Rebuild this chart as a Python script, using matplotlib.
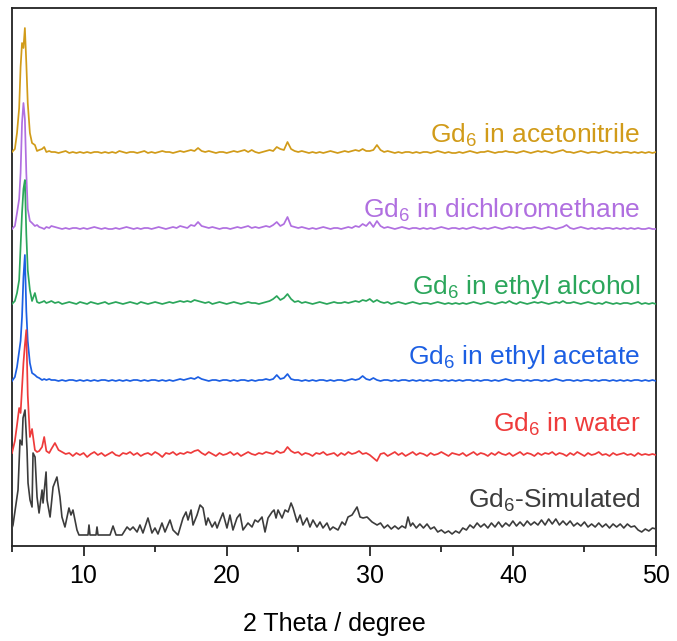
"""Stacked PXRD patterns of Gd6 after soaking in solvents vs. simulated pattern."""
import matplotlib
matplotlib.use("Agg")
import matplotlib.pyplot as plt
import numpy as np
from matplotlib.ticker import MultipleLocator

plt.rcParams["font.family"] = ["Liberation Sans", "DejaVu Sans"]
plt.rcParams["mathtext.fontset"] = "custom"
plt.rcParams["mathtext.rm"] = "Liberation Sans"
plt.rcParams["mathtext.it"] = "Liberation Sans:italic"

# ---- data (intensity in arbitrary units above each pattern's own baseline) ----
# low-angle region, shared sampling for the measured patterns
HEAD_X = [5.0, 5.2, 5.35, 5.5, 5.6, 5.7, 5.8, 5.9, 6.0, 6.1,
          6.25, 6.4, 6.6, 6.75, 6.9, 7.1, 7.25, 7.4, 7.6, 7.75]
# 8-50 deg, step 0.25 deg
TAIL_X = np.arange(8.0, 50.001, 0.25)

ACN_HEAD = [1, 4, 20, 45, 86, 110, 105, 125, 90, 50, 20, 10, 8, 2, 3, 4, 6, 1, 2, 1]
ACN_TAIL = [1, 0, 1, 2, 0, 1, 0, 1,
            0, 1, 0, 1, 1, 0, 1, 0,
            1, 0, 2, 1, 0, 1, 1, 0,
            1, 2, 0, 1, 0, 1, 2, 1,
            1, 0, 1, 2, 1, 2, 3, 2,
            5, 2, 1, 2, 1, 0, 1, 1,
            0, 1, 2, 1, 2, 3, 1, 3,
            1, 0, 1, 2, 3, 2, 6, 4,
            3, 11, 4, 2, 1, 2, 1, 0,
            1, 0, 1, 0, 1, 2, 1, 0,
            1, 2, 1, 2, 3, 2, 4, 2,
            2, 3, 8, 3, 1, 2, 1, 0,
            1, 0, 1, 1, 0, 1, 0, 1,
            1, 0, 1, 2, 1, 0, 1, 0,
            0, 1, 0, 1, 2, 1, 0, 1,
            1, 2, 1, 0, 1, 1, 2, 1,
            1, 0, 1, 2, 1, 0, 1, 2,
            1, 2, 1, 0, 1, 2, 3, 1,
            1, 0, 1, 2, 1, 0, 1, 1,
            0, 1, 2, 1, 0, 1, 0, 1,
            1, 0, 1, 0, 1, 0, 1, 0,
            1]

DCM_HEAD = [0, 3, 16, 30, 56, 106, 126, 110, 56, 20, 8, 6, 3, 4, 2, 1, 0, 2, 1, 3]
DCM_TAIL = [2, 1, 0, 1, 0, 1, 1, 0,
            1, 0, 1, 2, 1, 0, 1, 0,
            0, 1, 0, 1, 2, 1, 0, 1,
            0, 1, 1, 0, 1, 2, 1, 0,
            1, 2, 1, 3, 2, 1, 4, 3,
            7, 3, 2, 1, 2, 1, 0, 1,
            1, 0, 1, 2, 1, 2, 3, 1,
            2, 1, 2, 3, 2, 4, 7, 3,
            5, 12, 3, 2, 1, 2, 1, 0,
            1, 0, 1, 2, 1, 0, 1, 1,
            0, 1, 2, 1, 3, 2, 5, 3,
            7, 2, 8, 3, 1, 2, 1, 0,
            1, 2, 1, 0, 1, 1, 0, 1,
            0, 1, 0, 1, 2, 1, 0, 1,
            1, 0, 1, 0, 1, 2, 1, 0,
            1, 0, 1, 2, 1, 0, 1, 2,
            1, 2, 1, 0, 1, 1, 2, 1,
            0, 1, 2, 1, 0, 1, 2, 4,
            1, 0, 1, 2, 1, 0, 1, 0,
            1, 0, 1, 1, 0, 1, 0, 1,
            0, 1, 0, 1, 0, 0, 1, 0,
            0]

ETOH_HEAD = [0, 3, 11, 24, 57, 91, 115, 124, 70, 34, 14, 3, 11, 2, 1, 2, 3, 1, 2, 3]
ETOH_TAIL = [1, 2, 0, 1, 2, 1, 0, 2,
             1, 0, 2, 1, 0, 1, 2, 0,
             1, 2, 1, 0, 1, 2, 1, 0,
             2, 1, 0, 1, 2, 1, 0, 1,
             2, 1, 2, 3, 2, 3, 2, 4,
             3, 2, 1, 2, 0, 1, 2, 1,
             0, 1, 2, 1, 0, 1, 2, 1,
             1, 0, 1, 2, 3, 5, 8, 4,
             6, 10, 5, 2, 3, 1, 2, 1,
             0, 1, 2, 1, 0, 1, 2, 1,
             1, 2, 1, 2, 3, 2, 4, 3,
             5, 2, 4, 2, 1, 2, 0, 1,
             2, 1, 0, 1, 2, 1, 0, 1,
             1, 0, 1, 2, 1, 0, 1, 0,
             1, 0, 1, 0, 1, 2, 1, 0,
             1, 2, 1, 0, 1, 2, 1, 3,
             1, 0, 2, 1, 0, 1, 2, 1,
             2, 1, 0, 1, 2, 1, 3, 1,
             1, 2, 1, 0, 1, 2, 1, 0,
             1, 0, 2, 1, 0, 1, 0, 1,
             1, 0, 1, 2, 0, 1, 0, 1,
             0]

ETAC_HEAD = [0, 4, 14, 30, 40, 64, 104, 126, 70, 40, 18, 8, 6, 4, 3, 1, 2, 1, 2, 1]
ETAC_TAIL = [1, 0, 1, 0, 1, 1, 0, 1,
             0, 1, 0, 1, 0, 1, 1, 0,
             1, 0, 1, 0, 1, 0, 1, 1,
             0, 1, 0, 1, 1, 0, 1, 0,
             1, 0, 1, 2, 1, 2, 3, 2,
             4, 2, 1, 0, 1, 1, 0, 1,
             1, 0, 1, 0, 1, 1, 0, 1,
             0, 1, 1, 2, 1, 2, 6, 2,
             3, 7, 2, 1, 1, 0, 1, 0,
             1, 0, 1, 1, 0, 1, 0, 1,
             1, 0, 1, 2, 1, 2, 5, 2,
             1, 3, 1, 0, 1, 1, 0, 1,
             0, 1, 1, 0, 1, 0, 1, 0,
             1, 0, 1, 1, 0, 1, 0, 1,
             0, 1, 0, 1, 1, 0, 1, 0,
             1, 1, 0, 1, 0, 1, 2, 1,
             0, 1, 1, 0, 1, 0, 1, 1,
             0, 1, 0, 1, 2, 1, 0, 1,
             1, 0, 1, 0, 1, 1, 0, 1,
             0, 1, 1, 0, 1, 0, 1, 0,
             1, 0, 1, 1, 0, 1, 0, 1,
             0]

WATER_HEAD = [2, 14, 30, 47, 42, 68, 92, 110, 125, 60, 18, 26, 5, 3, 4, 8, 18, 4, 2, 6]
WATER_TAIL = [12, 5, 3, 1, 2, -1, 2, 0,
              2, -2, 1, 3, 0, 2, -1, 1,
              3, 0, -1, 2, 1, 3, 0, 2,
              -1, 1, 2, 0, 3, 1, -2, 2,
              1, 3, 0, 2, 1, 3, 2, 4,
              5, 2, 0, 3, 1, -1, 2, 0,
              1, 3, 0, 2, -1, 1, 3, 1,
              0, 2, 1, 3, 2, 1, 4, 2,
              3, 8, 4, 2, 3, 0, 2, 1,
              -1, 2, 1, 3, 0, 1, 2, -1,
              2, 0, 3, 1, 2, 4, 1, 2,
              0, -3, -6, 1, 2, -1, 1, 3,
              0, 2, -1, 1, 3, 0, 2, 1,
              -1, 2, 0, 1, 3, 1, -1, 2,
              1, 0, 2, -1, 1, 3, 0, 2,
              1, -1, 2, 0, 3, 1, 0, 2,
              -1, 1, 3, 0, 2, 1, -1, 2,
              0, 2, 1, 3, 0, 2, 1, -1,
              2, 0, 3, 1, -1, 2, 0, 1,
              3, 0, 1, -1, 2, 0, 1, 2,
              0, 1, -1, 2, 0, 1, 0, 1,
              0]

# simulated pattern, read point by point
SIM_X = [5.0, 5.07, 5.42, 5.56, 5.70, 5.77, 5.91, 6.05, 6.12, 6.26, 6.40, 6.47, 6.61,
         6.75, 6.89, 7.10, 7.17, 7.38, 7.45, 7.66, 7.87, 8.14, 8.35, 8.49, 8.70,
         8.98, 9.12, 9.26, 9.54, 9.68, 10.31, 10.38, 10.45, 10.87, 10.94, 11.01,
         11.85, 12.06, 12.27, 12.69, 13.04, 13.25, 13.46, 13.74, 13.94, 14.15,
         14.50, 14.78, 14.99, 15.20, 15.48, 15.69, 16.04, 16.25, 16.60, 16.95,
         17.16, 17.30, 17.51, 17.65, 17.93, 18.14, 18.35, 18.56, 18.70, 18.98,
         19.19, 19.33, 19.54, 19.74, 20.02, 20.23, 20.44, 20.72, 20.93, 21.14,
         21.49, 21.77, 21.98, 22.19, 22.47, 22.68, 22.89, 23.17, 23.31, 23.45,
         23.59, 23.87, 24.08, 24.29, 24.50, 24.64, 24.92, 25.13, 25.33, 25.61,
         25.82, 26.03, 26.31, 26.52, 26.73, 27.01, 27.22, 27.43, 27.78, 28.06,
         28.27, 28.48, 28.76, 29.11, 29.32, 29.53, 29.81, 30.16, 30.51,
         30.75, 31.0, 31.25, 31.5, 31.75, 32.0, 32.25, 32.5, 32.67, 32.85,
         33.0, 33.25, 33.5, 33.75, 34.0, 34.25, 34.5, 34.75, 35.0, 35.25,
         35.5, 35.75, 36.0, 36.25, 36.5, 36.75, 37.0, 37.25, 37.5, 37.75,
         38.0, 38.25, 38.5, 38.75, 39.0, 39.25, 39.5, 39.75, 40.0, 40.25,
         40.5, 40.75, 41.0, 41.25, 41.5, 41.75, 42.0, 42.25, 42.5, 42.75,
         43.0, 43.25, 43.5, 43.75, 44.0, 44.25, 44.5, 44.75, 45.0, 45.25,
         45.5, 45.75, 46.0, 46.25, 46.5, 46.75, 47.0, 47.25, 47.5, 47.75,
         48.0, 48.25, 48.5, 48.75, 49.0, 49.25, 49.5, 49.75, 50.0]
SIM_Y = [18, 21, 56, 106, 101, 128, 136, 96, 63, 46, 39, 93, 89,
         49, 33, 56, 43, 74, 46, 29, 59, 69, 49, 29, 19,
         38, 31, 36, 16, 11, 11, 21, 11, 11, 19, 11,
         11, 20, 11, 11, 19, 16, 19, 14, 21, 13,
         28, 13, 18, 12, 23, 14, 26, 16, 11, 28,
         34, 26, 36, 21, 31, 41, 38, 21, 28, 19,
         24, 18, 26, 33, 18, 31, 16, 28, 32, 16,
         23, 19, 26, 24, 29, 14, 28, 34, 36, 28,
         36, 28, 36, 34, 43, 38, 24, 31, 21, 28,
         19, 26, 19, 24, 18, 23, 16, 19, 16, 24,
         21, 29, 31, 39, 29, 28, 29, 24, 21,
         23, 18, 21, 17, 20, 17, 20, 18, 29, 20,
         23, 18, 22, 18, 22, 17, 19, 14, 16, 13,
         15, 12, 15, 13, 18, 16, 21, 18, 23, 19,
         22, 18, 23, 19, 24, 19, 23, 20, 25, 20,
         24, 20, 25, 21, 24, 21, 26, 21, 27, 22,
         27, 21, 25, 21, 25, 20, 23, 20, 24, 19,
         22, 19, 23, 19, 22, 18, 22, 19, 22, 18,
         22, 19, 20, 16, 14, 17, 15, 18, 17]

LABELS = [r"Gd$_6$ in acetonitrile", r"Gd$_6$ in dichloromethane",
          r"Gd$_6$ in ethyl alcohol", r"Gd$_6$ in ethyl acetate",
          r"Gd$_6$ in water", r"Gd$_6$-Simulated"]

# ---- style / layout ----
COLORS = ["#D19B19", "#B06FE0", "#2BA65B", "#1C5FE3", "#EE3B3B", "#3C3C3C"]
OFFSETS = [393, 317, 242, 165, 91, 0]
LABEL_Y = [403, 328, 252, 182, 114, 38]

fig = plt.figure(figsize=(6.77, 6.41), dpi=100)
ax = fig.add_axes([12 / 677, 95 / 641, 644 / 677, 538 / 641])

measured = [(ACN_HEAD, ACN_TAIL), (DCM_HEAD, DCM_TAIL), (ETOH_HEAD, ETOH_TAIL),
            (ETAC_HEAD, ETAC_TAIL), (WATER_HEAD, WATER_TAIL)]
for i, (head, tail) in enumerate(measured):
    x = np.concatenate([HEAD_X, TAIL_X])
    y = np.concatenate([head, tail]) + OFFSETS[i]
    ax.plot(x, y, color=COLORS[i], lw=1.25, zorder=3 + i)
ax.plot(SIM_X, np.array(SIM_Y) + OFFSETS[5], color=COLORS[5], lw=1.2, zorder=9)

for i, lab in enumerate(LABELS):
    ax.text(48.9, LABEL_Y[i], lab, color=COLORS[i], fontsize=19,
            ha="right", va="baseline")

ax.set_xlim(5, 50)
ax.set_ylim(0, 538)
ax.set_yticks([])
ax.xaxis.set_major_locator(MultipleLocator(10))
ax.xaxis.set_minor_locator(MultipleLocator(5))
ax.tick_params(axis="x", which="major", length=7, width=1.1, labelsize=18, pad=6)
ax.tick_params(axis="x", which="minor", length=4, width=1.1)
for sp in ax.spines.values():
    sp.set_linewidth(1.3)
    sp.set_color("#222222")
ax.set_xlabel("2 Theta / degree", fontsize=18, labelpad=17)

fig.savefig("out.png", dpi=100)
